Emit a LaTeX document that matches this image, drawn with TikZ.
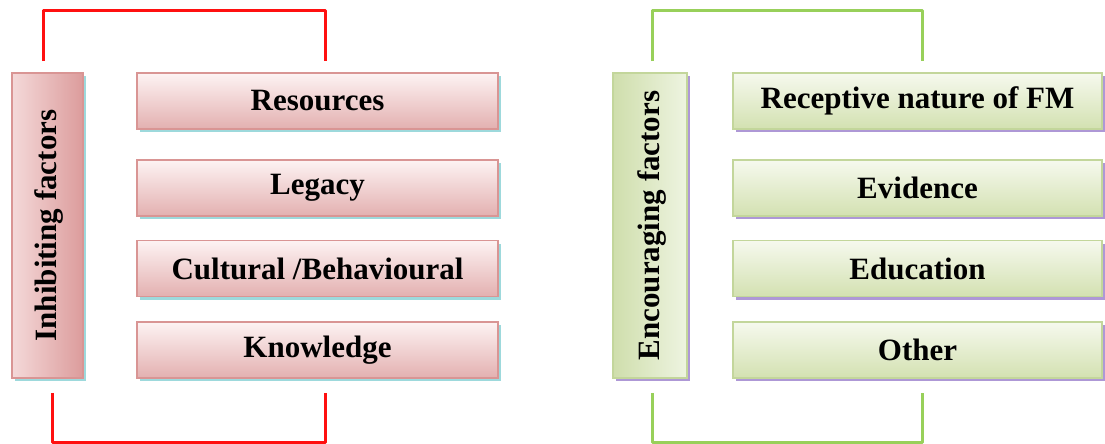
\documentclass[tikz,border=0pt]{standalone}
\usepackage{fontspec}
\setmainfont{Liberation Serif}
\usetikzlibrary{shadows}
\definecolor{pinkborder}{HTML}{D99594}
\definecolor{pinktop}{HTML}{FDF3F3}
\definecolor{pinkbot}{HTML}{E3B0B0}
\definecolor{pinkleft}{HTML}{F4D9D9}
\definecolor{pinkright}{HTML}{DC9C9C}
\definecolor{cyanshadow}{HTML}{9DD9DC}
\definecolor{greenborder}{HTML}{C3D69B}
\definecolor{greentop}{HTML}{F6F9EE}
\definecolor{greenbot}{HTML}{D3E1B1}
\definecolor{greenleft}{HTML}{CFDEAC}
\definecolor{greenright}{HTML}{EEF4E1}
\definecolor{lavshadow}{HTML}{AE98D6}
\definecolor{redline}{HTML}{FF1010}
\definecolor{greenline}{HTML}{98D05A}
\tikzset{
  basebox/.style={rectangle, line width=1.5pt, inner sep=0pt, font=\fontsize{31}{35}\selectfont\bfseries, text=black},
  pinkitem/.style={basebox, draw=pinkborder, top color=pinktop, bottom color=pinkbot,
     minimum width=361pt, minimum height=56pt,
     drop shadow={shadow xshift=3pt, shadow yshift=-3pt, fill=cyanshadow, opacity=1}},
  greenitem/.style={basebox, draw=greenborder, top color=greentop, bottom color=greenbot,
     minimum width=369pt, minimum height=56pt,
     drop shadow={shadow xshift=3pt, shadow yshift=-3pt, fill=lavshadow, opacity=1}},
  pinkvert/.style={basebox, draw=pinkborder, left color=pinkleft, right color=pinkright,
     minimum width=71pt, minimum height=305pt,
     drop shadow={shadow xshift=3pt, shadow yshift=-3pt, fill=cyanshadow, opacity=1}},
  greenvert/.style={basebox, draw=greenborder, left color=greenleft, right color=greenright,
     minimum width=74pt, minimum height=305pt,
     drop shadow={shadow xshift=3pt, shadow yshift=-3pt, fill=lavshadow, opacity=1}},
  redbracket/.style={draw=redline, line width=3pt, line join=round},
  greenbracket/.style={draw=greenline, line width=3pt, line join=round},
  vtext/.style={rotate=90, font=\fontsize{31}{35}\selectfont\bfseries}
}
\begin{document}
\begin{tikzpicture}[x=1pt,y=-1pt]
\useasboundingbox[fill=white] (0,0) rectangle (1105,444);
% left group
\node[pinkvert] (lv) at (47.5,225.5) {};
\node[vtext] (lvt) at ([xshift=2pt]lv.center) {Inhibiting factors};
\node[pinkitem] (l1) at (317.5,101) {Resources};
\node[pinkitem] (l2) at (317.5,188) {Legacy};
\node[pinkitem] (l3) at (317.5,268.5) {Cultural /Behavioural};
\node[pinkitem] (l4) at (317.5,350) {Knowledge};
\draw[redbracket] ([xshift=-4.5pt,yshift=11pt]lv.north) -- ++(0pt,51pt) -| ([xshift=7.5pt,yshift=11pt]l1.north);
\draw[redbracket] ([xshift=4.5pt,yshift=-14pt]lv.south) -- ++(0pt,-50pt) -| ([xshift=7.5pt,yshift=-14pt]l4.south);
% right group
\node[greenvert] (rv) at (650,225.5) {};
\node[vtext] (rvt) at ([xshift=2pt]rv.center) {Encouraging factors};
\node[greenitem] (r1) at (917.5,101) {Receptive nature of FM};
\node[greenitem] (r2) at (917.5,188) {Evidence};
\node[greenitem] (r3) at (917.5,268.5) {Education};
\node[greenitem] (r4) at (917.5,350) {Other};
\draw[greenbracket] ([xshift=2pt,yshift=11pt]rv.north) -- ++(0pt,51pt) -| ([xshift=4.5pt,yshift=11pt]r1.north);
\draw[greenbracket] ([xshift=2pt,yshift=-14pt]rv.south) -- ++(0pt,-50pt) -| ([xshift=4.5pt,yshift=-14pt]r4.south);
\end{tikzpicture}
\end{document}
